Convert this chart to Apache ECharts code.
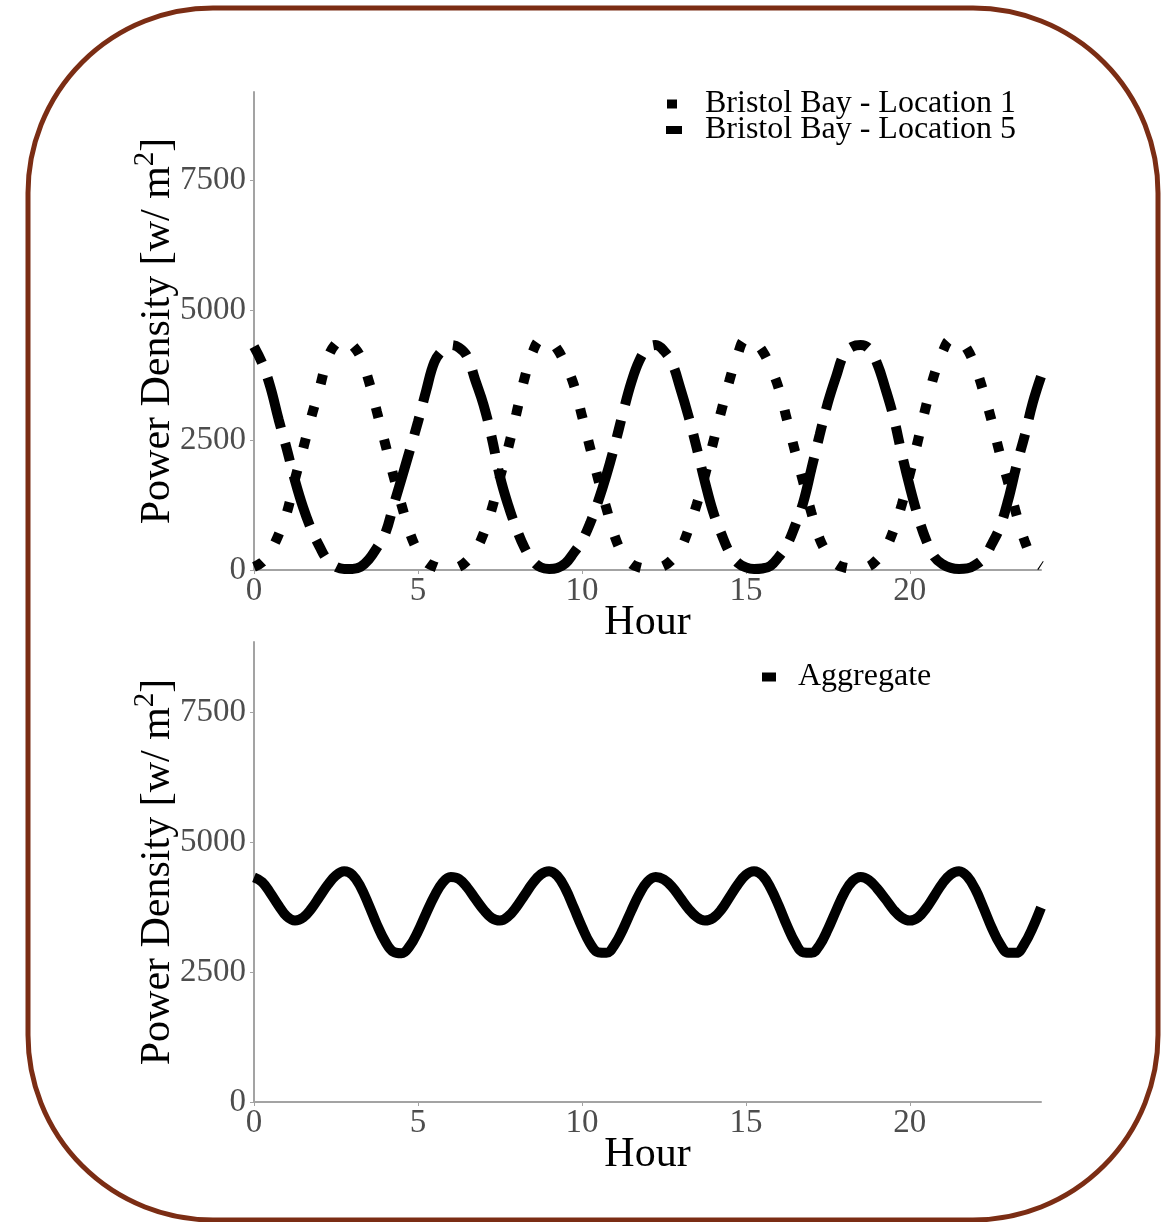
<!DOCTYPE html>
<html>
<head>
<meta charset="utf-8">
<title>Power Density</title>
<script src="https://cdn.jsdelivr.net/npm/echarts@6/dist/echarts.min.js"></script>
<style>
    html, body { margin: 0; padding: 0; background: #fff; }
    #main { width: 1169px; height: 1222px; }
</style>
</head>
<body>
<div id="main"></div>
<script>
// hours sampled every 15 minutes
var hours = [0,0.25,0.5,0.75,1,1.25,1.5,1.75,2,2.25,2.5,2.75,3,3.25,3.5,3.75,4,4.25,4.5,4.75,
    5,5.25,5.5,5.75,6,6.25,6.5,6.75,7,7.25,7.5,7.75,8,8.25,8.5,8.75,9,9.25,9.5,9.75,
    10,10.25,10.5,10.75,11,11.25,11.5,11.75,12,12.25,12.5,12.75,13,13.25,13.5,13.75,14,14.25,14.5,14.75,
    15,15.25,15.5,15.75,16,16.25,16.5,16.75,17,17.25,17.5,17.75,18,18.25,18.5,18.75,19,19.25,19.5,19.75,
    20,20.25,20.5,20.75,21,21.25,21.5,21.75,22,22.25,22.5,22.75,23,23.25,23.5,23.75,24];

var location1 = [60,150,360,680,1100,1750,2340,2950,3500,4080,4360,4450,4330,4100,3640,3040,2430,1820,1250,720,
    360,150,70,30,30,60,180,370,700,1170,1780,2350,3010,3690,4200,4430,4410,4250,3950,3570,
    2970,2350,1740,1180,650,300,120,50,30,40,80,200,400,780,1260,1820,2450,3060,3650,4150,
    4440,4390,4220,3910,3500,2900,2280,1690,1100,600,300,120,50,30,40,70,200,400,760,1250,
    1850,2500,3170,3770,4200,4430,4420,4250,3900,3420,2860,2230,1680,1070,560,220,80];

var location5 = [4300,3980,3520,2900,2330,1720,1200,780,450,180,60,20,20,60,200,430,700,1230,1760,2300,
    2850,3450,4000,4230,4330,4280,4110,3650,3180,2550,1800,1250,800,430,180,50,20,40,130,330,
    560,900,1330,1830,2400,3020,3600,4030,4270,4330,4220,3980,3500,2960,2350,1700,1120,700,340,140,
    50,20,30,80,250,480,850,1300,1950,2600,3220,3720,4160,4300,4330,4260,3980,3500,2950,2250,
    1600,1030,570,250,110,40,20,30,100,230,500,830,1350,2000,2580,3220,3720];

var aggregate = [4320,4230,4020,3780,3570,3490,3550,3720,3950,4180,4360,4440,4370,4140,3790,3410,3090,2890,2860,3000,
    3280,3630,3960,4220,4330,4290,4130,3910,3700,3540,3490,3570,3750,3980,4210,4380,4440,4350,4100,3740,
    3370,3050,2880,2870,3030,3320,3670,4000,4240,4330,4280,4140,3930,3720,3560,3490,3540,3700,3940,4180,
    4370,4440,4360,4120,3780,3400,3070,2880,2870,3020,3320,3680,4020,4250,4330,4270,4110,3910,3700,3550,
    3490,3550,3730,3970,4210,4380,4440,4340,4090,3730,3350,3040,2870,2870,3050,3360,3740];

var yTicks = [0, 2500, 5000, 7500];
var xTicks = [0, 5, 10, 15, 20];

var font = 'Liberation Serif';

function pairs(vals) {
    var out = [];
    for (var i = 0; i < hours.length; i++) {
        out.push([hours[i], vals[i]]);
    }
    return out;
}

function plain(v) {
    return String(v);
}

function xAxisCfg(gridIndex) {
    return {
        type: 'value', gridIndex: gridIndex, min: 0, max: 24,
        name: 'Hour', nameLocation: 'middle', nameGap: 32, nameMoveOverlap: false,
        nameTextStyle: { fontFamily: font, fontSize: 42, color: '#000' },
        axisLine: { lineStyle: { color: '#a3a3a3', width: 2 } },
        axisTick: { length: 4, lineStyle: { color: '#a3a3a3' }, customValues: xTicks },
        axisLabel: { fontFamily: font, fontSize: 33, color: '#4d4d4d', margin: 5, customValues: xTicks, formatter: plain },
        splitLine: { show: false }
    };
}

function yAxisCfg(gridIndex, max) {
    return {
        type: 'value', gridIndex: gridIndex, min: 0, max: max,
        name: '{a|Power Density [w/ m}{b|2}{a|]}', nameLocation: 'middle', nameGap: 69, nameMoveOverlap: false,
        nameTextStyle: {
            fontFamily: font, fontSize: 42, color: '#000',
            rich: {
                a: { fontFamily: font, fontSize: 42, lineHeight: 54, color: '#000' },
                b: { fontFamily: font, fontSize: 29, lineHeight: 29, color: '#000', verticalAlign: 'top' }
            }
        },
        axisLine: { show: true, lineStyle: { color: '#a3a3a3', width: 2 } },
        axisTick: { show: true, length: 4, lineStyle: { color: '#a3a3a3' }, customValues: yTicks },
        axisLabel: { fontFamily: font, fontSize: 33, color: '#4d4d4d', margin: 8, customValues: yTicks, formatter: plain },
        splitLine: { show: false }
    };
}

function legendCfg(name, left, top, w, h, pad) {
    return {
        data: [name], left: left, top: top, orient: 'vertical',
        icon: 'rect', itemWidth: w, itemHeight: h, itemGap: 0,
        selectedMode: false, padding: 0,
        textStyle: { fontFamily: font, fontSize: 32, color: '#000', lineHeight: 26, padding: [0, 0, 0, pad] }
    };
}

var myChart = echarts.init(document.getElementById('main'));

var option = {
    backgroundColor: '#fff',
    animation: false,
    graphic: [{
        type: 'rect', z: -1,
        shape: { x: 28, y: 8, width: 1130, height: 1212, r: 185 },
        style: { fill: 'none', stroke: '#7b2d14', lineWidth: 5 }
    }],
    legend: [
        legendCfg('Bristol Bay - Location 1', 667, 88, 10, 9, 23),
        legendCfg('Bristol Bay - Location 5', 666, 114, 16, 8, 18),
        legendCfg('Aggregate', 762, 661, 14, 9, 17)
    ],
    grid: [
        { left: 254, top: 92, right: 128, bottom: 652 },
        { left: 254, top: 642, right: 128, bottom: 120 }
    ],
    xAxis: [xAxisCfg(0), xAxisCfg(1)],
    yAxis: [yAxisCfg(0, 9200), yAxisCfg(1, 8850)],
    series: [
        {
            name: 'Bristol Bay - Location 1', type: 'line', xAxisIndex: 0, yAxisIndex: 0,
            data: pairs(location1), showSymbol: false, smooth: 0.4,
            itemStyle: { color: '#000' },
            lineStyle: { color: '#000', width: 10, type: [10, 23], cap: 'butt' }
        },
        {
            name: 'Bristol Bay - Location 5', type: 'line', xAxisIndex: 0, yAxisIndex: 0,
            data: pairs(location5), showSymbol: false, smooth: 0.4,
            itemStyle: { color: '#000' },
            lineStyle: { color: '#000', width: 10, type: [18, 16, 52, 16], cap: 'butt' }
        },
        {
            name: 'Aggregate', type: 'line', xAxisIndex: 1, yAxisIndex: 1,
            data: pairs(aggregate), showSymbol: false, smooth: 0.4,
            itemStyle: { color: '#000' },
            lineStyle: { color: '#000', width: 10, join: 'round' }
        }
    ]
};

myChart.setOption(option);
</script>
</body>
</html>
